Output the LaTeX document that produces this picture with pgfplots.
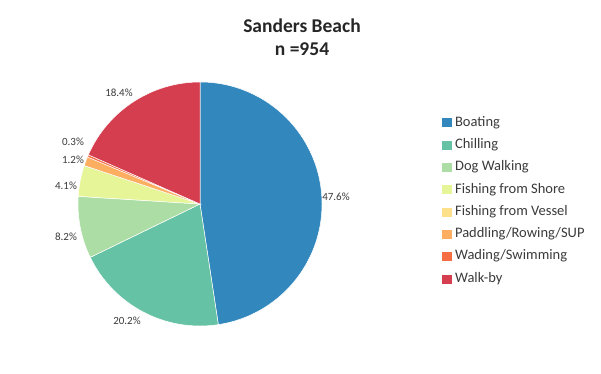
\documentclass[border=0pt]{standalone}
\usepackage{pgfplots}
\pgfplotsset{compat=1.18}
\usepackage{pgfplotstable}
\usepackage{fontspec}
\setmainfont{Carlito}
\definecolor{cBoat}{HTML}{3288BD}
\definecolor{cChill}{HTML}{66C2A5}
\definecolor{cDog}{HTML}{ABDDA4}
\definecolor{cShore}{HTML}{E6F598}
\definecolor{cVessel}{HTML}{FEE08B}
\definecolor{cPaddle}{HTML}{FDAE61}
\definecolor{cWade}{HTML}{F46D43}
\definecolor{cWalk}{HTML}{D53E4F}
\definecolor{labgray}{HTML}{3A3A3A}
\newcommand\labfont{\fontsize{11bp}{13bp}\selectfont}

\pgfplotstableread[col sep=comma]{
name,value,color,lx,ly
Boating,47.6,cBoat,336,197
Chilling,20.2,cChill,127,321
Dog Walking,8.2,cDog,66,237
Fishing from Shore,4.1,cShore,66,186
Fishing from Vessel,0,cVessel,0,0
Paddling/Rowing/SUP,1.2,cPaddle,73,160
Wading/Swimming,0.3,cWade,73,142
Walk-by,18.4,cWalk,119,93
}\piedata

\newcommand\piecmds{}
\newcommand\addpiecmd[1]{\xdef\piecmds{\unexpanded\expandafter{\piecmds}\unexpanded{#1}}}
\def\cum{0}
\pgfplotsforeachungrouped \ii in {0,...,7}{%
  \pgfplotstablegetelem{\ii}{value}\of\piedata \let\pv\pgfplotsretval
  \pgfplotstablegetelem{\ii}{color}\of\piedata \let\pc\pgfplotsretval
  \pgfplotstablegetelem{\ii}{lx}\of\piedata \let\plx\pgfplotsretval
  \pgfplotstablegetelem{\ii}{ly}\of\piedata \let\ply\pgfplotsretval
  \pgfmathsetmacro\sa{90-3.6*\cum}%
  \pgfmathsetmacro\cum{\cum+\pv}%
  \pgfmathsetmacro\ea{90-3.6*\cum}%
  \pgfmathsetmacro\plyy{374-\ply}%
  \ifdim\pv pt>0pt
    \edef\tmp{\noexpand\fill[\pc,draw=white,line width=0.5bp] (axis cs:200,170) -- ++(\sa:122bp) arc[start angle=\sa,end angle=\ea,radius=122bp] -- cycle;
      \noexpand\node[font=\noexpand\labfont,text=labgray] at (axis cs:\plx,\plyy) {\pv\noexpand\%};}%
    \expandafter\addpiecmd\expandafter{\tmp}%
  \fi
}

\pgfplotsset{pieleg/.style={legend image code/.code={\fill[#1] (0bp,-4bp) rectangle (8.5bp,4bp);}}}

\begin{document}
\begin{tikzpicture}
\begin{axis}[
  scale only axis, width=601bp, height=374bp,
  xmin=0, xmax=601, ymin=0, ymax=374,
  hide axis, clip=false,
  legend style={at={(axis cs:442,258.5)}, anchor=north west, draw=none, fill=none, inner sep=0pt,
    font=\fontsize{14.5bp}{16bp}\selectfont, row sep=8.3bp, column sep=4bp,
    nodes={text height=10.5bp, text depth=3.5bp, inner sep=0pt, text=labgray}},
  legend cell align=left,
]
\piecmds
\node[align=center, font=\fontsize{19.5bp}{23bp}\selectfont\bfseries, text=black!85] at (axis cs:302,374-37) {Sanders Beach\\n =954};
\addlegendimage{pieleg=cBoat}\addlegendentry{Boating}
\addlegendimage{pieleg=cChill}\addlegendentry{Chilling}
\addlegendimage{pieleg=cDog}\addlegendentry{Dog Walking}
\addlegendimage{pieleg=cShore}\addlegendentry{Fishing from Shore}
\addlegendimage{pieleg=cVessel}\addlegendentry{Fishing from Vessel}
\addlegendimage{pieleg=cPaddle}\addlegendentry{Paddling/Rowing/SUP}
\addlegendimage{pieleg=cWade}\addlegendentry{Wading/Swimming}
\addlegendimage{pieleg=cWalk}\addlegendentry{Walk-by}
\end{axis}
\path[use as bounding box] (0,0) rectangle (601bp,374bp);
\end{tikzpicture}
\end{document}
